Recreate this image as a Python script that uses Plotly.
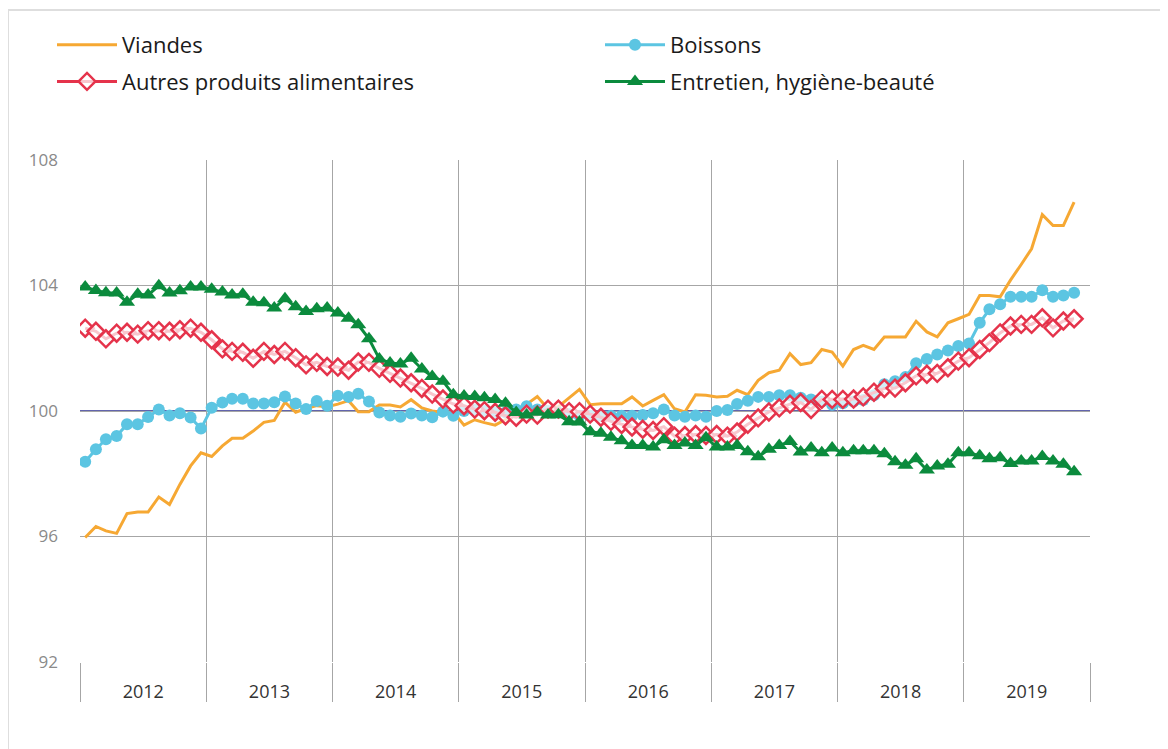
import pandas as pd
import plotly.graph_objects as go

years = ["2012", "2013", "2014", "2015", "2016", "2017", "2018", "2019"]
months = pd.date_range("2012-01-01", periods=95, freq="MS") + pd.Timedelta(days=15)

viandes = [
    95.97, 96.32, 96.18, 96.10, 96.73, 96.78, 96.78, 97.26, 97.02, 97.66, 98.25, 98.67,
    98.55, 98.89, 99.13, 99.13, 99.36, 99.64, 99.70, 100.28, 99.96, 100.08, 100.17, 100.14,
    100.22, 100.33, 99.98, 99.98, 100.19, 100.19, 100.13, 100.36, 100.10, 100.00, 99.95, 99.97,
    99.55, 99.72, 99.63, 99.55, 99.73, 99.95, 100.21, 100.46, 100.07, 100.14, 100.42, 100.69,
    100.20, 100.23, 100.23, 100.23, 100.45, 100.16, 100.34, 100.52, 100.07, 99.97, 100.52, 100.50,
    100.45, 100.47, 100.66, 100.52, 100.98, 101.22, 101.30, 101.83, 101.48, 101.54, 101.96, 101.88,
    101.43, 101.96, 102.09, 101.96, 102.36, 102.36, 102.36, 102.86, 102.52, 102.36, 102.81, 102.94,
    103.08, 103.68, 103.68, 103.64, 104.17, 104.67, 105.17, 106.26, 105.91, 105.91, 106.66,
]
boissons = [
    98.38, 98.78, 99.10, 99.20, 99.58, 99.58, 99.81, 100.05, 99.86, 99.93, 99.79, 99.44,
    100.10, 100.27, 100.39, 100.39, 100.24, 100.24, 100.28, 100.46, 100.24, 100.06, 100.32, 100.17,
    100.49, 100.45, 100.55, 100.30, 99.95, 99.86, 99.82, 99.92, 99.86, 99.80, 99.98, 99.85,
    100.00, 100.05, 100.00, 99.95, 99.95, 100.05, 100.15, 100.05, 100.00, 99.95, 99.90, 99.85,
    99.85, 99.85, 99.85, 99.85, 99.85, 99.87, 99.93, 100.05, 99.86, 99.82, 99.86, 99.82,
    100.00, 100.03, 100.22, 100.33, 100.45, 100.45, 100.50, 100.50, 100.42, 100.37, 100.30, 100.20,
    100.25, 100.30, 100.35, 100.50, 100.85, 100.95, 101.08, 101.52, 101.66, 101.80, 101.93, 102.07,
    102.15, 102.81, 103.24, 103.40, 103.64, 103.64, 103.64, 103.85, 103.64, 103.68, 103.77,
]
autres = [
    102.64, 102.54, 102.30, 102.48, 102.51, 102.45, 102.56, 102.56, 102.54, 102.59, 102.64, 102.51,
    102.27, 101.98, 101.90, 101.87, 101.68, 101.90, 101.80, 101.90, 101.70, 101.47, 101.55, 101.42,
    101.40, 101.30, 101.56, 101.55, 101.36, 101.20, 101.05, 100.90, 100.72, 100.54, 100.38, 100.22,
    100.17, 100.06, 100.01, 99.96, 99.85, 99.80, 99.90, 99.87, 100.06, 100.06, 99.98, 99.98,
    99.90, 99.80, 99.67, 99.57, 99.49, 99.42, 99.38, 99.50, 99.20, 99.22, 99.25, 99.22,
    99.25, 99.20, 99.33, 99.58, 99.78, 99.97, 100.10, 100.22, 100.27, 100.05, 100.37, 100.37,
    100.37, 100.38, 100.45, 100.60, 100.72, 100.73, 100.90, 101.12, 101.17, 101.20, 101.38, 101.59,
    101.70, 101.96, 102.18, 102.49, 102.71, 102.76, 102.76, 102.97, 102.65, 102.87, 102.94,
]
entretien = [
    103.95, 103.84, 103.77, 103.76, 103.47, 103.72, 103.70, 103.99, 103.76, 103.83, 103.95, 103.95,
    103.88, 103.79, 103.70, 103.72, 103.47, 103.45, 103.28, 103.58, 103.32, 103.17, 103.26, 103.28,
    103.12, 102.96, 102.75, 102.30, 101.66, 101.53, 101.50, 101.68, 101.34, 101.10, 100.95, 100.52,
    100.48, 100.46, 100.42, 100.37, 100.25, 99.95, 99.87, 99.96, 99.87, 99.88, 99.66, 99.65,
    99.34, 99.29, 99.16, 99.05, 98.90, 98.90, 98.85, 99.08, 98.90, 98.98, 98.90, 99.15,
    98.85, 98.85, 98.90, 98.70, 98.54, 98.78, 98.90, 99.03, 98.69, 98.82, 98.67, 98.82,
    98.67, 98.73, 98.73, 98.73, 98.64, 98.38, 98.27, 98.48, 98.12, 98.25, 98.30, 98.67,
    98.67, 98.57, 98.48, 98.51, 98.33, 98.41, 98.41, 98.55, 98.41, 98.30, 98.06,
]

ORANGE = "#F6A833"
BLUE = "#5CC5E2"
RED = "#E5334B"
GREEN = "#0B8B3D"
NAVY = "#2E3192"
GRID = "#A6A6A6"
FONT = "Open Sans"

fig = go.Figure()

fig.add_trace(go.Scatter(
    x=months, y=viandes, name="Viandes", mode="lines",
    line=dict(color=ORANGE, width=3), legend="legend", legendgroup="a",
))
fig.add_trace(go.Scatter(
    x=months, y=boissons, name="Boissons", mode="lines+markers",
    line=dict(color=BLUE, width=3),
    marker=dict(symbol="circle", size=12, color=BLUE),
    legend="legend2", legendgroup="b",
))
fig.add_trace(go.Scatter(
    x=months, y=autres, name="Autres produits alimentaires", mode="lines+markers",
    line=dict(color=RED, width=3),
    marker=dict(symbol="diamond", size=13, color="rgba(255,255,255,0.72)",
                line=dict(color=RED, width=2.5)),
    legend="legend", legendgroup="c",
))
fig.add_trace(go.Scatter(
    x=months, y=entretien, name="Entretien, hygiène-beauté", mode="lines+markers",
    line=dict(color=GREEN, width=3),
    marker=dict(symbol="triangle-up", size=14, color=GREEN),
    legend="legend2", legendgroup="d",
))

year_starts = [f"{y}-01-01" for y in years] + ["2020-01-01"]
year_mids = [f"{y}-07-02" for y in years]

# page has an 8px body margin; figure coordinates are page coordinates minus 8
W, H = 1160, 741
ml, mt = 72, 152
pw, ph = 1010, 502
mr = W - ml - pw
mb = H - mt - ph

def px_x(p):
    return (p - 8 - ml) / pw

def px_y(p):
    return 1 - (p - 8 - mt) / ph

fig.add_shape(type="line", xref="paper", yref="y", x0=0, x1=1, y0=100, y1=100,
              line=dict(color=NAVY, width=1.6), layer="below")
fig.add_shape(type="rect", xref="paper", yref="paper",
              x0=px_x(8), x1=px_x(1200), y0=px_y(800), y1=px_y(10),
              line=dict(color="#DEDEDE", width=2), layer="below")

legend_common = dict(
    orientation="v", xanchor="left", yanchor="top",
    font=dict(family=FONT, size=22, color="#1a1a1a"),
    bgcolor="rgba(0,0,0,0)", traceorder="grouped", tracegroupgap=5,
    itemwidth=60,
)

fig.update_layout(
    width=W, height=H,
    margin=dict(l=ml, r=mr, t=mt, b=mb),
    paper_bgcolor="white", plot_bgcolor="white",
    font=dict(family=FONT),
    showlegend=True,
    legend=dict(x=px_x(52), y=px_y(24), **legend_common),
    legend2=dict(x=px_x(600), y=px_y(24), **legend_common),
    xaxis=dict(
        range=["2012-01-01", "2020-01-01"],
        tickmode="array", tickvals=year_mids, ticktext=years,
        ticks="outside", ticklen=13, tickcolor="rgba(0,0,0,0)",
        tickfont=dict(family=FONT, size=18, color="#333333"),
        showgrid=False, zeroline=False, showline=False,
        minor=dict(tickmode="array", tickvals=year_starts, showgrid=True,
                   gridcolor=GRID, gridwidth=1, ticks="outside", ticklen=39,
                   tickcolor=GRID, tickwidth=1),
    ),
    yaxis=dict(
        range=[92, 108], tickmode="array", tickvals=[92, 96, 100, 104, 108],
        showgrid=True, gridcolor=GRID, gridwidth=1, zeroline=False,
        tickfont=dict(family=FONT, size=17, color="#8A8A8A"),
        ticks="", ticklabelstandoff=21,
    ),
    yaxis2=dict(
        range=[92, 108], tickmode="array", tickvals=[92, 96, 100, 104, 108],
        overlaying="y", side="right", showgrid=False, zeroline=False,
        tickfont=dict(family=FONT, size=17, color="#8A8A8A"),
        ticks="", ticklabelstandoff=10,
    ),
)

fig.write_html("out.html")
